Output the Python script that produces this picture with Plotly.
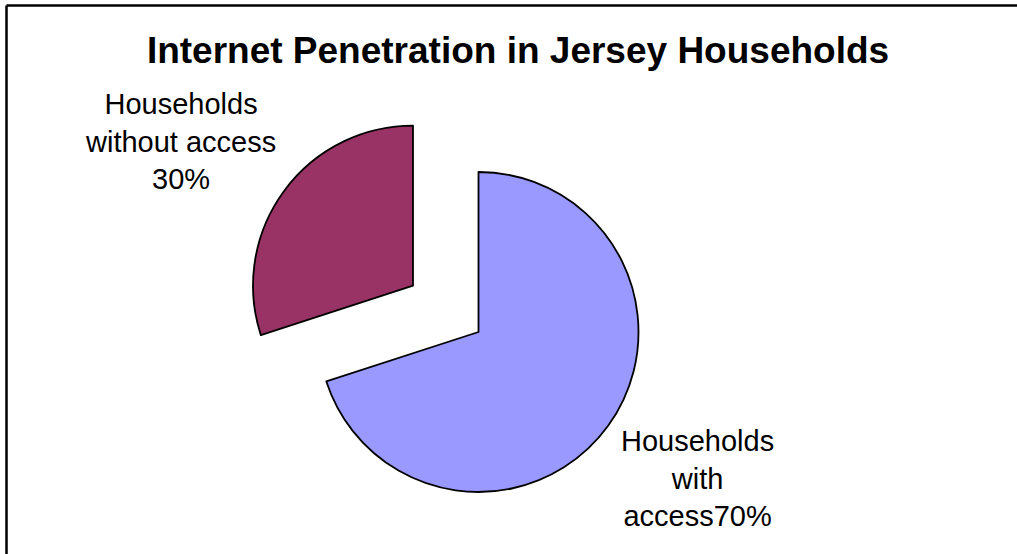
import plotly.graph_objects as go

# ---- data ----
categories = ["Households with access", "Households without access"]
values = [70, 30]
label_texts = ["Households<br>with<br>access70%", "Households<br>without access<br>30%"]
slice_colors = ["#9999FF", "#993366"]
title_text = "Internet Penetration in Jersey Households"

W, H = 1030, 554
R = 160
centers = [(478.5, 332.0), (413.0, 285.7)]  # pie centres in px (second slice exploded)

def domain_for(cx, cy):
    return dict(x=[(cx - R) / W, (cx + R) / W], y=[1 - (cy + R) / H, 1 - (cy - R) / H])

fig = go.Figure()
for i, (cx, cy) in enumerate(centers):
    cols = ["rgba(0,0,0,0)"] * len(values)
    widths = [0] * len(values)
    cols[i] = slice_colors[i]
    widths[i] = 1.8
    fig.add_trace(go.Pie(
        labels=categories, values=values, sort=False, direction="clockwise",
        rotation=0, domain=domain_for(cx, cy),
        marker=dict(colors=cols, line=dict(color="black", width=widths)),
        textinfo="none", hoverinfo="label+percent", showlegend=False,
    ))

label_pos = [(697, 478), (180, 141)]
for txt, (x, y) in zip(label_texts, label_pos):
    fig.add_annotation(text=txt, x=x / W, y=1 - y / H, xref="paper", yref="paper",
                       xanchor="center", yanchor="middle", showarrow=False, align="center",
                       font=dict(family="Arial, Liberation Sans", size=29, color="black"))

bx, by = 6.5 / W, 1 - 5.5 / H
fig.update_layout(
    width=W, height=H, margin=dict(l=0, r=0, t=0, b=0),
    paper_bgcolor="white", plot_bgcolor="white",
    title=dict(text="<b>" + title_text + "</b>", x=518 / W, y=1 - 50 / H,
               xanchor="center", yanchor="middle", xref="paper", yref="container",
               font=dict(family="Arial, Liberation Sans", size=37, color="black")),
    shapes=[
        dict(type="line", xref="paper", yref="paper", x0=bx, x1=bx, y0=0, y1=by,
             line=dict(color="black", width=2.5)),
        dict(type="line", xref="paper", yref="paper", x0=bx, x1=1, y0=by, y1=by,
             line=dict(color="black", width=2.5)),
    ],
)

fig.write_html("out.html", config={"displayModeBar": False},
               post_script=("document.documentElement.style.overflow='hidden';"
                            "document.body.style.margin='0';document.body.style.overflow='hidden';"))
